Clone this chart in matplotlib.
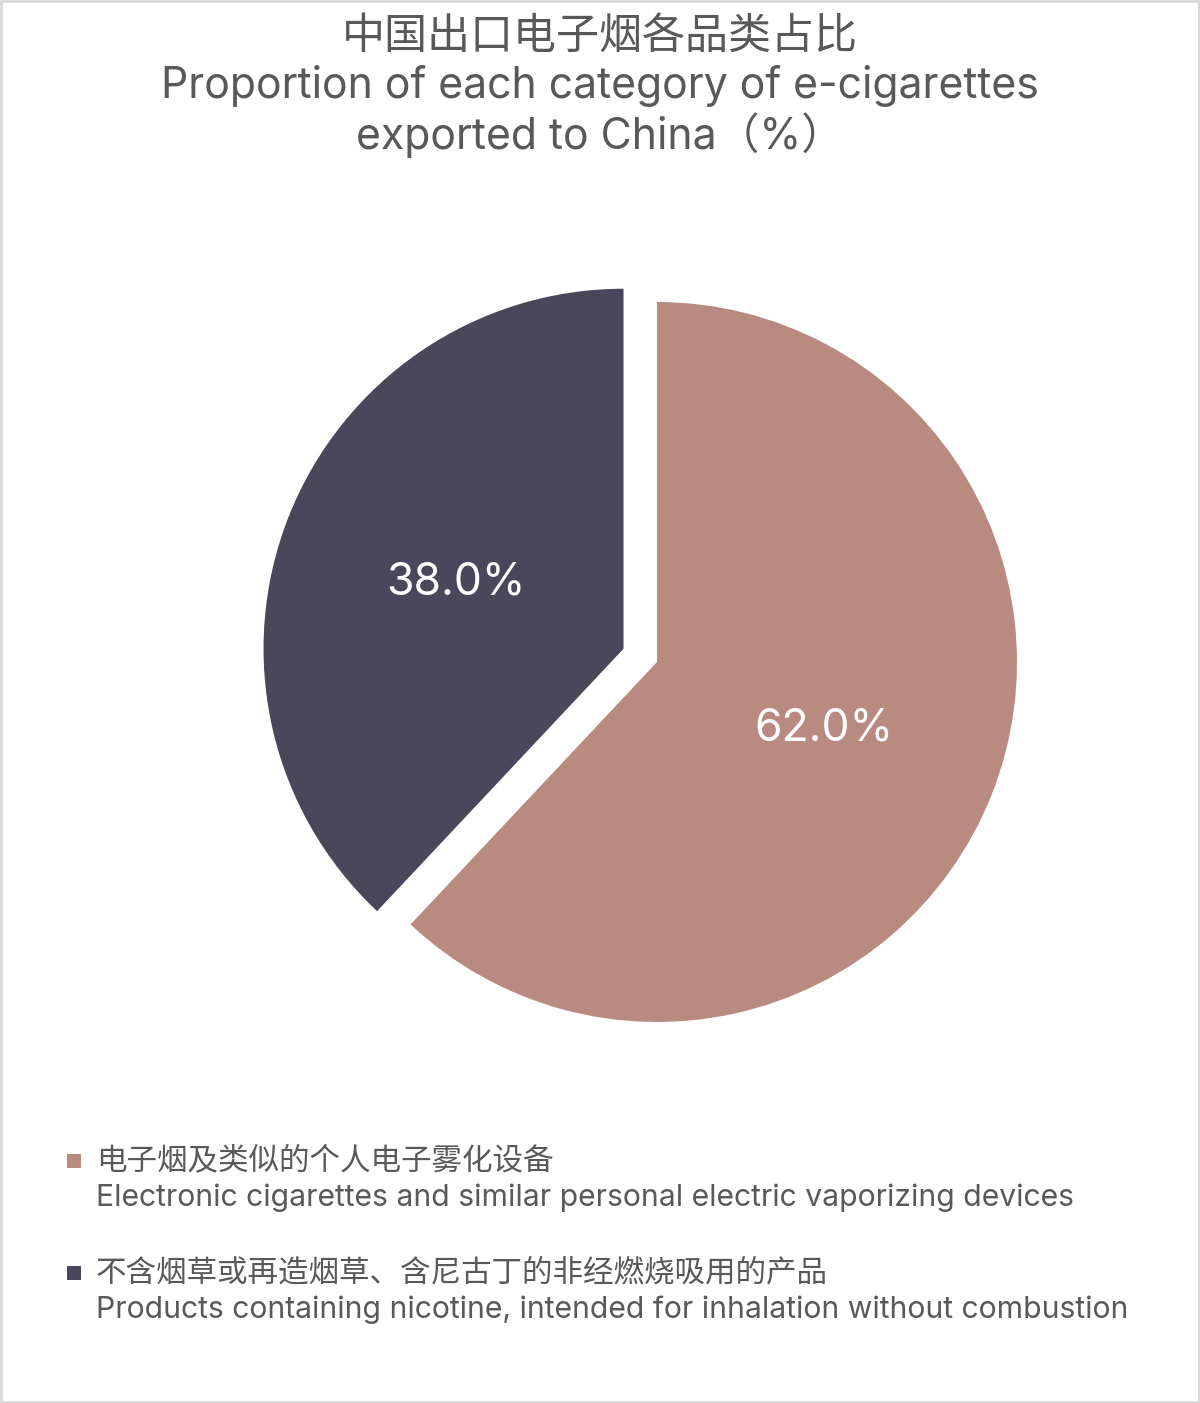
import matplotlib
matplotlib.use("Agg")
import matplotlib.pyplot as plt
from matplotlib.patches import Rectangle

plt.rcParams['font.family'] = ['Noto Sans CJK SC', 'DejaVu Sans']
latin = ['Inter', 'Noto Sans CJK SC']

# data
categories_cn = ["电子烟及类似的个人电子雾化设备",
                 "不含烟草或再造烟草、含尼古丁的非经燃烧吸用的产品"]
categories_en = ["Electronic cigarettes and similar personal electric vaporizing devices",
                 "Products containing nicotine, intended for inhalation without combustion"]
shares = [62.0, 38.0]
colors = ["#B98A80", "#4A475B"]
explode = [0, 0.1]

text_color = "#595959"

W, H = 1200, 1403
fig = plt.figure(figsize=(W / 100, H / 100), dpi=100)
fig.patch.set_facecolor("white")

# light frame around the picture
fig.patches.append(Rectangle((0.001, 0.001), 0.998, 0.998, transform=fig.transFigure,
                             fill=False, edgecolor="#D9D9D9", linewidth=2))

# title
fig.text(0.5, 1 - 37 / H, "中国出口电子烟各品类占比", ha="center", va="center",
         fontsize=31, color=text_color)
fig.text(0.5, 1 - 86 / H, "Proportion of each category of e-cigarettes", ha="center",
         va="center", fontsize=30.8, color=text_color, family=latin)
fig.text(0.5, 1 - 135 / H, "exported to China（%）", ha="center", va="center",
         fontsize=30.8, color=text_color, family=latin)

# pie
cx, cy, r = 657, 662, 360
half = 1.25 * r
ax = fig.add_axes([(cx - half) / W, (H - cy - half) / H, 2 * half / W, 2 * half / H])
wedges, texts, autotexts = ax.pie(shares, colors=colors, explode=explode, startangle=90,
                                  counterclock=False, autopct="%.1f%%", pctdistance=0.5,
                                  textprops=dict(color="white", fontsize=32, family=latin))
ax.set_xlim(-1.25, 1.25)
ax.set_ylim(-1.25, 1.25)
ax.set_aspect("equal")
ax.axis("off")

# legend
rows_y = [1161, 1273]
for i in range(len(shares)):
    y = rows_y[i]
    fig.patches.append(Rectangle((67 / W, 1 - (y + 7) / H), 14 / W, 14 / H,
                                 transform=fig.transFigure, facecolor=colors[i],
                                 edgecolor="none"))
    fig.text(96 / W, 1 - y / H, categories_cn[i], ha="left", va="center",
             fontsize=22, color=text_color)
    fig.text(96 / W, 1 - (y + 37) / H, categories_en[i], ha="left", va="center",
             fontsize=21.7, color=text_color, family=latin)

fig.savefig("out.png", dpi=100)
